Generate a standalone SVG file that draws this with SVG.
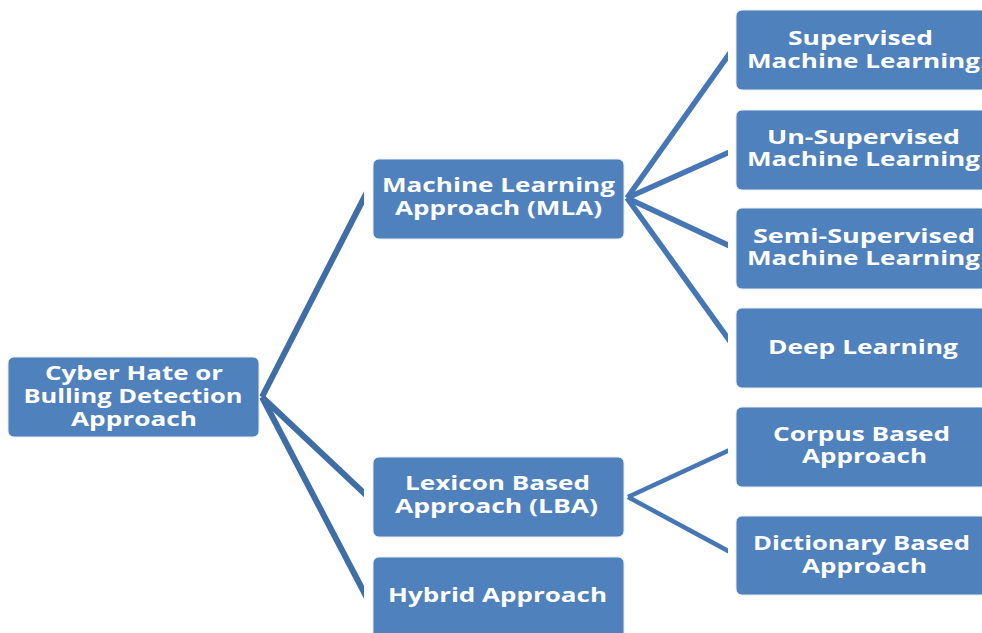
<svg xmlns="http://www.w3.org/2000/svg" width="982" height="633" viewBox="0 0 982 633">
<style>
.box{fill:#4f81bd;stroke:#e6ecf4;stroke-width:1}
.t{font-family:"Open Sans","Liberation Sans",sans-serif;font-weight:700;font-size:19px;fill:#ffffff;text-anchor:middle}
.c1{stroke:#3f6da5;stroke-width:6;fill:none}
.c2{stroke:#4677b4;stroke-width:5.5;fill:none}
.c3{stroke:#4677b4;stroke-width:4.5;fill:none}
</style>
<defs>
<clipPath id="clipL"><rect x="0" y="0" width="364" height="633"/></clipPath>
<clipPath id="clipR"><rect x="0" y="0" width="728" height="633"/></clipPath>
</defs>
<rect width="982" height="633" fill="#ffffff"/>
<g id="connectors">
<g clip-path="url(#clipL)">
<line class="c1" x1="262" y1="397" x2="368" y2="190"/>
<line class="c1" x1="262" y1="397" x2="368" y2="497"/>
<line class="c1" x1="262" y1="397" x2="368" y2="600"/>
</g>
<g clip-path="url(#clipR)">
<line class="c2" x1="627" y1="198" x2="732" y2="50"/>
<line class="c2" x1="627" y1="198" x2="732" y2="151"/>
<line class="c2" x1="627" y1="198" x2="732" y2="247"/>
<line class="c2" x1="627" y1="198" x2="732" y2="344"/>
<line class="c3" x1="628" y1="497" x2="732" y2="449"/>
<line class="c3" x1="628" y1="497" x2="732" y2="553"/>
</g>
</g>
<g id="root">
<rect class="box" x="8" y="357" width="251" height="80" rx="6"/>
<text class="t" x="134" y="380" textLength="178" lengthAdjust="spacingAndGlyphs">Cyber Hate or</text>
<text class="t" x="133" y="403" textLength="219" lengthAdjust="spacingAndGlyphs">Bulling Detection</text>
<text class="t" x="134" y="426" textLength="126" lengthAdjust="spacingAndGlyphs">Approach</text>
</g>
<g id="mla">
<rect class="box" x="373" y="159" width="251" height="80" rx="6"/>
<text class="t" x="498.5" y="192" textLength="233" lengthAdjust="spacingAndGlyphs">Machine Learning</text>
<text class="t" x="498.5" y="215" textLength="207" lengthAdjust="spacingAndGlyphs">Approach (MLA)</text>
</g>
<g id="lba">
<rect class="box" x="373" y="457" width="251" height="80" rx="6"/>
<text class="t" x="497.5" y="490" textLength="185" lengthAdjust="spacingAndGlyphs">Lexicon Based</text>
<text class="t" x="496.5" y="513" textLength="203" lengthAdjust="spacingAndGlyphs">Approach (LBA)</text>
</g>
<g id="hybrid">
<rect class="box" x="373" y="557" width="251" height="82" rx="6"/>
<text class="t" x="497.5" y="602" textLength="219" lengthAdjust="spacingAndGlyphs">Hybrid Approach</text>
</g>
<g id="supervised">
<rect class="box" x="736" y="10" width="251" height="80" rx="6"/>
<text class="t" x="860.5" y="45" textLength="145" lengthAdjust="spacingAndGlyphs">Supervised</text>
<text class="t" x="863.5" y="68" textLength="233" lengthAdjust="spacingAndGlyphs">Machine Learning</text>
</g>
<g id="unsupervised">
<rect class="box" x="736" y="110" width="251" height="80" rx="6"/>
<text class="t" x="863.5" y="144" textLength="193" lengthAdjust="spacingAndGlyphs">Un-Supervised</text>
<text class="t" x="863.5" y="166" textLength="233" lengthAdjust="spacingAndGlyphs">Machine Learning</text>
</g>
<g id="semisupervised">
<rect class="box" x="736" y="208" width="251" height="81" rx="6"/>
<text class="t" x="864" y="243" textLength="222" lengthAdjust="spacingAndGlyphs">Semi-Supervised</text>
<text class="t" x="863.5" y="265" textLength="233" lengthAdjust="spacingAndGlyphs">Machine Learning</text>
</g>
<g id="deep">
<rect class="box" x="736" y="308" width="251" height="80" rx="6"/>
<text class="t" x="863" y="354" textLength="190" lengthAdjust="spacingAndGlyphs">Deep Learning</text>
</g>
<g id="corpus">
<rect class="box" x="736" y="407" width="251" height="80" rx="6"/>
<text class="t" x="861.5" y="441" textLength="177" lengthAdjust="spacingAndGlyphs">Corpus Based</text>
<text class="t" x="864.5" y="463" textLength="125" lengthAdjust="spacingAndGlyphs">Approach</text>
</g>
<g id="dictionary">
<rect class="box" x="736" y="516" width="251" height="79" rx="6"/>
<text class="t" x="861.5" y="550" textLength="217" lengthAdjust="spacingAndGlyphs">Dictionary Based</text>
<text class="t" x="864.5" y="573" textLength="125" lengthAdjust="spacingAndGlyphs">Approach</text>
</g>
</svg>
